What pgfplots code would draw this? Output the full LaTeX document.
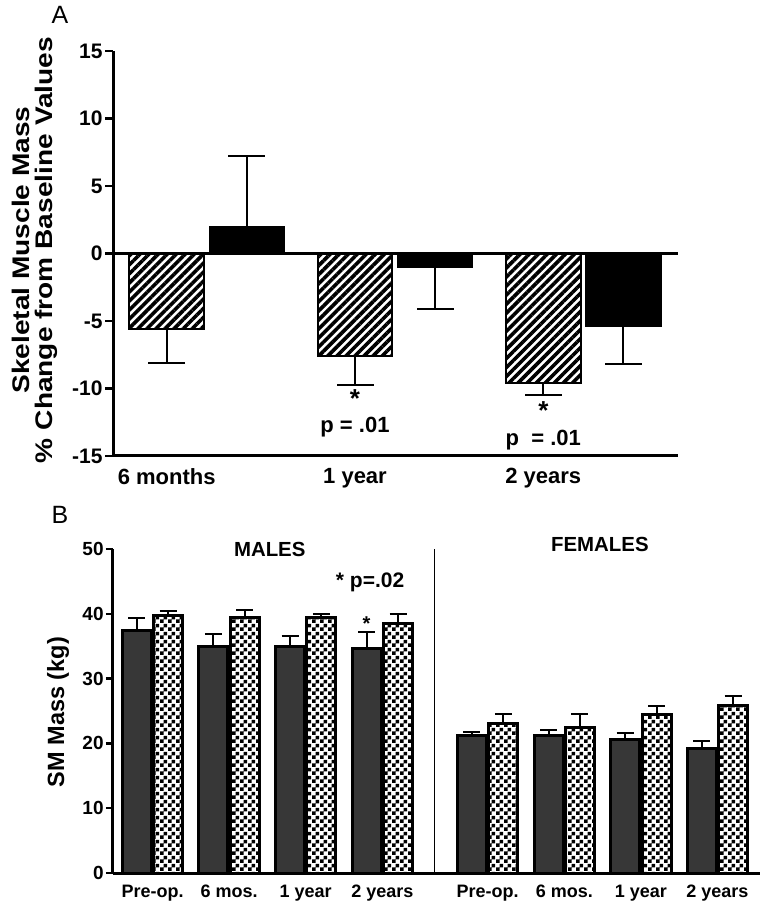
\documentclass[border=0pt]{standalone}
\usepackage{pgfplots}
\pgfplotsset{compat=1.18}
\usepackage{fontspec}
\setmainfont{Liberation Sans}
\usetikzlibrary{patterns,patterns.meta}

% black/white checkerboard used in panel B
\pgfdeclarepatternformonly{smallcheck}{\pgfpointorigin}{\pgfqpoint{3.8pt}{3.8pt}}{\pgfqpoint{3.8pt}{3.8pt}}{%
  \pgfpathrectangle{\pgfpointorigin}{\pgfqpoint{1.9pt}{1.9pt}}%
  \pgfpathrectangle{\pgfqpoint{1.9pt}{1.9pt}}{\pgfqpoint{1.9pt}{1.9pt}}%
  \pgfusepath{fill}}

\definecolor{darkbar}{RGB}{55,55,55}

\pgfplotsset{
  prism/.style={
    scale only axis, clip=false,
    axis x line*=bottom, axis y line*=left,
    axis line style={line width=1.5pt, black},
    tick align=outside, major tick length=4pt,
    ytick style={line width=1.2pt, black},
    xtick style={draw=none},
    ybar, bar shift=0pt,
  },
  hatchbar/.style={draw=black, line width=1pt, fill=white,
    pattern={Lines[angle=45,distance=3.2pt,line width=1.8pt]}},
  solidbar/.style={draw=black, line width=1pt, fill=black},
  errA/.style={error bars/.cd, y dir=#1, y explicit,
    error bar style={line width=0.9pt, black},
    error mark options={line width=0.9pt, black, mark size=9.25pt, rotate=90}},
  errB/.style={error bars/.cd, y dir=plus, y explicit,
    error bar style={line width=1pt, black},
    error mark options={line width=1pt, black, mark size=4.25pt, rotate=90}},
}
\tikzset{signif/.style={align=center, inner sep=0pt, anchor=north,
    font=\fontsize{11}{12.8}\selectfont\bfseries}}

\begin{document}
\begin{tikzpicture}
\useasboundingbox (0,0) rectangle (381pt,450.5pt);

% ---------------- panel A ----------------
\node[font=\fontsize{12.5}{13}\selectfont] at (30pt,443pt) {A};
\node[rotate=90, align=center, font=\fontsize{12}{11.5}\selectfont\bfseries]
  at (17.5pt,325.5pt) {\scalebox{1.17}[1]{Skeletal Muscle Mass}\\\scalebox{1.17}[1]{\% Change from Baseline Values}};

\begin{axis}[prism,
  at={(56.5pt,222.5pt)}, anchor=south west,
  width=282.5pt, height=202.5pt,
  xmin=0.5, xmax=3.5, ymin=-15, ymax=15,
  bar width=0.395,
  ytick={-15,-10,-5,0,5,10,15},
  yticklabels={-15,-10,-5,0,5,10,15},
  yticklabel style={font=\fontsize{10.5}{11}\selectfont\bfseries, inner sep=1pt},
  xtick={0.785,1.785,2.785},
  xticklabels={6 months,1 year,2 years},
  xticklabel style={font=\fontsize{11}{12}\selectfont\bfseries, yshift=1.5pt},
]
\addplot[hatchbar, errA=minus] coordinates {
  (0.785,-5.6) +- (0,2.5)
  (1.785,-7.6) +- (0,2.15)
  (2.785,-9.6) +- (0,0.9)
};
\addplot[solidbar, errA=plus] coordinates {
  (1.21,2.0) +- (0,5.2)
};
\addplot[solidbar, errA=minus] coordinates {
  (2.21,-1.0) +- (0,3.1)
  (3.21,-5.4) +- (0,2.8)
};
\draw[line width=1.5pt] (axis cs:0.5,0) -- (axis cs:3.5,0);
\node[signif] at (axis cs:1.785,-10.02) {{\fontsize{13}{12.8}\selectfont *}\\p = .01};
\node[signif] at (axis cs:2.785,-10.95) {{\fontsize{13}{12.8}\selectfont *}\\p \ = .01};
\end{axis}

% ---------------- panel B ----------------
\node[font=\fontsize{12.5}{13}\selectfont] at (30pt,193pt) {B};
\node[rotate=90, font=\fontsize{11.75}{12}\selectfont\bfseries] at (29pt,94.5pt) {SM Mass (kg)};

\begin{axis}[prism,
  at={(56.5pt,14pt)}, anchor=south west,
  width=323.5pt, height=162pt,
  xmin=0.484, xmax=8.93, ymin=0, ymax=50,
  bar width=0.38,
  ytick={0,10,20,30,40,50},
  yticklabels={0,10,20,30,40,50},
  yticklabel style={font=\fontsize{9.5}{10}\selectfont\bfseries, inner sep=1pt},
  major tick length=3.5pt,
  xtick={1,2,3,4,5.375,6.375,7.375,8.375},
  xticklabels={Pre-op.,6 mos.,1 year,2 years,Pre-op.,6 mos.,1 year,2 years},
  xticklabel style={font=\fontsize{9}{10}\selectfont\bfseries, yshift=1pt},
]
% dark bars
\addplot[draw=black, line width=1.5pt, fill=darkbar, errB] coordinates {
  (0.795,37.4) +- (0,1.9)
  (1.795,35.0) +- (0,1.9)
  (2.795,35.0) +- (0,1.6)
  (3.795,34.6) +- (0,2.6)
  (5.17,21.2) +- (0,0.6)
  (6.17,21.2) +- (0,0.9)
  (7.17,20.6) +- (0,1.0)
  (8.17,19.2) +- (0,1.1)
};
% checkered bars
\addplot[draw=black, line width=1.5pt, fill=white, pattern=smallcheck, errB] coordinates {
  (1.205,39.7) +- (0,0.8)
  (2.205,39.5) +- (0,1.1)
  (3.205,39.4) +- (0,0.6)
  (4.205,38.5) +- (0,1.4)
  (5.58,23.0) +- (0,1.5)
  (6.58,22.5) +- (0,2.1)
  (7.58,24.5) +- (0,1.3)
  (8.58,25.9) +- (0,1.4)
};
\draw[line width=0.8pt] (axis cs:4.68,0) -- (axis cs:4.68,50);
\node[font=\fontsize{10.2}{11}\selectfont\bfseries] at (axis cs:2.53,50.0) {MALES};
\node[font=\fontsize{10.2}{11}\selectfont\bfseries] at (axis cs:6.84,50.7) {FEMALES};
\node[font=\fontsize{10.5}{11}\selectfont\bfseries] at (axis cs:3.84,44.9) {* p=.02};
\node[font=\fontsize{10}{10}\selectfont\bfseries, inner sep=0pt, anchor=north] at (axis cs:3.795,39.6) {*};
\end{axis}
\end{tikzpicture}
\end{document}
